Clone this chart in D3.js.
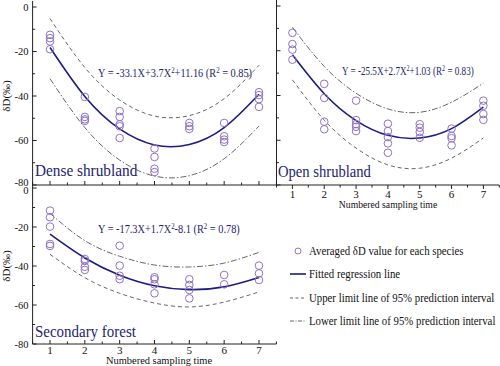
<!DOCTYPE html>
<html lang="en">
<meta charset="utf-8">
<title>dD sampling time</title>
<style>
  body { margin: 0; background: #fff; }
</style>
<body>
<svg id="canvas"></svg>
<script src="https://cdn.jsdelivr.net/npm/d3@7/dist/d3.min.js"></script>
<script>

    //////////////////////// data ////////////////////////
    var x_ticks    = [1, 2, 3, 4, 5, 6, 7];
    var y_ticks    = [0, -20, -40, -60, -80];

    // Dense shrubland
    var dense_pts  = [[1,-12.5],[1,-14],[1,-15.5],[1,-19],
                      [2,-40.4],[2,-49.4],[2,-50.5],[2,-51.2],
                      [3,-46.8],[3,-49.4],[3,-52.7],[3,-53.6],[3,-58.9],
                      [4,-63.6],[4,-67.4],[4,-72.7],[4,-74.2],
                      [5,-52.1],[5,-53.6],[5,-54.8],
                      [6,-52.1],[6,-58.1],[6,-59.6],[6,-60.7],
                      [7,-38.3],[7,-39.6],[7,-41.4],[7,-44.9]];
    var dense_fit  = [-18.2, -40.2, -54.8, -62.0, -61.8, -54.2, -39.2];
    var dense_up   = [-5.2, -27.2, -41.8, -49.0, -48.8, -41.2, -26.2];
    var dense_lo   = [-32.2, -54.2, -68.8, -76.0, -75.8, -68.2, -53.5];

    // Open shrubland
    var open_pts   = [[1,-12],[1,-17],[1,-19.5],[1,-24],
                      [2,-34.8],[2,-41.1],[2,-51.7],[2,-55.1],
                      [3,-42.3],[3,-51],[3,-52.8],[3,-54],[3,-55.9],
                      [4,-52.6],[4,-55.9],[4,-58.6],[4,-61.4],[4,-65.6],
                      [5,-52.8],[5,-54.4],[5,-56.3],[5,-58.9],
                      [6,-54.8],[6,-58.1],[6,-59.1],[6,-62.3],
                      [7,-42.3],[7,-44.6],[7,-48.3],[7,-50.9]];
    var open_fit   = [-21.8, -39.2, -51.2, -57.8, -59.0, -54.8, -45.2];
    var open_up    = [-9.5, -27, -39, -46, -47.5, -43, -34.5];
    var open_lo    = [-33, -51, -63.5, -71, -72.5, -68, -59];

    // Secondary forest
    var sec_pts    = [[1,-11.6],[1,-15],[1,-19.8],[1,-28.7],[1,-29.7],
                      [2,-36.4],[2,-37.4],[2,-40.4],[2,-42],
                      [3,-29.6],[3,-39.8],[3,-45],[3,-46.8],
                      [4,-45.8],[4,-46.8],[4,-49.4],[4,-54],
                      [5,-46.8],[5,-49.7],[5,-52.3],[5,-56.6],
                      [6,-44.6],[6,-49.4],
                      [7,-39.8],[7,-43.8],[7,-47.2]];
    var sec_fit    = [-23.7, -35.9, -44.7, -50.1, -52.1, -50.7, -45.9];
    var sec_up     = [-13, -27, -35, -39.5, -40.5, -38.5, -33];
    var sec_lo     = [-34, -46, -54, -59, -61, -58.5, -53.3];

    var legend_items = ["Averaged \u03b4D value for each species",
                        "Fitted regression line",
                        "Upper limit line of 95% prediction interval",
                        "Lower limit line of 95% prediction interval"];
    //////////////////////////////////////////////////////

    ///////////////////// styles /////////////////////////
    var W = 500, H = 366;
    var font       = '"Liberation Serif", "DejaVu Serif", "Times New Roman", serif';
    var pt_color   = '#8f72c4';
    var fit_color  = '#1c1c82';
    var txt_color  = '#24246e';
    var int_color  = '#555';
    var dash       = '4,3';
    var dashdot    = '6,2,1.5,2';
    //////////////////////////////////////////////////////

    var svg = d3.select("#canvas").attr('width', W).attr('height', H)
                .attr('font-family', font);

    // yNudge: small shift of the end labels where two stacked axes meet
    var panels = [
        { name: "Dense shrubland", pts: dense_pts, fit: dense_fit, up: dense_up, lo: dense_lo,
          upStyle: dash, loStyle: dashdot,
          xr: [32.6, 276.4], yr: [185, 7], tickDir: -1, xLabels: false, yLabels: true,
          eq: ["Y = -33.1X+3.7X", "+11.16 (R", " = 0.85)"], eqX: 98, eqY: 77, eqS: 0.86,
          lab: [35, 176, 0.9], yTitle: 96, yNudge: { "-80": -2.5 } },
        { name: "Open shrubland", pts: open_pts, fit: open_fit, up: open_up, lo: open_lo,
          upStyle: dashdot, loStyle: dash,
          xr: [276.5, 499.3], yr: [185, 6], tickDir: 1, xLabels: true, yLabels: false,
          eq: ["Y = -25.5X+2.7X", "+1.03 (R", " = 0.83)"], eqX: 342, eqY: 75, eqS: 0.76,
          lab: [278, 177, 0.86], xTitle: [388, 208, 0.88], tickY: 198 },
        { name: "Secondary forest", pts: sec_pts, fit: sec_fit, up: sec_up, lo: sec_lo,
          upStyle: dashdot, loStyle: dash,
          xr: [32.6, 276.4], yr: [344, 188], tickDir: -1, xLabels: true, yLabels: true,
          eq: ["Y = -17.3X+1.7X", "-8.1 (R", " = 0.78)"], eqX: 98, eqY: 233, eqS: 0.86,
          lab: [35, 337, 0.88], xTitle: [159, 364, 0.95], tickY: 354, yTitle: 266,
          yNudge: { "0": 2.5 } }
    ];

    panels.forEach(function (p) {
        var x = d3.scaleLinear().domain([0.5, 7.5]).range(p.xr);
        var y = d3.scaleLinear().domain([-80, 0]).range(p.yr);
        var g = svg.append('g');

        // x axis
        var xa = g.append('g').attr('transform', 'translate(0,' + p.yr[0] + ')');
        xa.append('line').attr('x1', p.xr[0]).attr('x2', p.xr[1])
          .attr('stroke', '#222').attr('stroke-width', 1);
        xa.selectAll('.maj').data(x_ticks).enter().append('line')
          .attr('x1', d => x(d)).attr('x2', d => x(d))
          .attr('y1', 0).attr('y2', 4 * p.tickDir)
          .attr('stroke', '#222');
        xa.selectAll('.min').data(x_ticks.map(d => d + 0.5).concat([0.5])).enter().append('line')
          .attr('x1', d => x(d)).attr('x2', d => x(d))
          .attr('y1', 0).attr('y2', 2.5 * p.tickDir)
          .attr('stroke', '#222');
        if (p.xLabels) {
            g.selectAll('.xl').data(x_ticks).enter().append('text')
             .attr('x', d => x(d)).attr('y', p.tickY)
             .attr('text-anchor', 'middle').attr('font-size', 11).attr('fill', '#111')
             .text(d => d);
            g.append('text')
             .attr('transform', 'translate(' + p.xTitle[0] + ',' + p.xTitle[1] + ') scale(' + p.xTitle[2] + ',1)')
             .attr('text-anchor', 'middle').attr('font-size', 11).attr('fill', '#111')
             .text('Numbered sampling time');
        }

        // y axis
        var ya = g.append('g').attr('transform', 'translate(' + p.xr[0] + ',0)');
        ya.append('line').attr('y1', p.yr[0]).attr('y2', p.yr[1] - 6)
          .attr('stroke', '#222').attr('stroke-width', 1);
        ya.selectAll('.maj').data(y_ticks).enter().append('line')
          .attr('y1', d => y(d)).attr('y2', d => y(d)).attr('x1', 0).attr('x2', 4)
          .attr('stroke', '#222');
        ya.selectAll('.min').data(d3.range(-70, 0, 20)).enter().append('line')
          .attr('y1', d => y(d)).attr('y2', d => y(d)).attr('x1', 0).attr('x2', 2.5)
          .attr('stroke', '#222');
        if (p.yLabels) {
            var nudge = p.yNudge || {};
            g.selectAll('.yl').data(y_ticks).enter().append('text')
             .attr('x', p.xr[0] - 4).attr('y', d => y(d) + 3.5 + (nudge[d] || 0))
             .attr('text-anchor', 'end').attr('font-size', 10.5).attr('fill', '#111')
             .text(d => d);
            g.append('text')
             .attr('transform', 'translate(10,' + p.yTitle + ') rotate(-90)')
             .attr('text-anchor', 'middle').attr('font-size', 11).attr('fill', '#111')
             .text('\u03b4D(\u2030)');
        }

        // curves
        var line = d3.line().x((d, i) => x(x_ticks[i])).y(d => y(d)).curve(d3.curveNatural);
        g.append('path').attr('d', line(p.up)).attr('fill', 'none')
         .attr('stroke', int_color).attr('stroke-width', 0.9).attr('stroke-dasharray', p.upStyle);
        g.append('path').attr('d', line(p.lo)).attr('fill', 'none')
         .attr('stroke', int_color).attr('stroke-width', 0.9).attr('stroke-dasharray', p.loStyle);
        g.append('path').attr('d', line(p.fit)).attr('fill', 'none')
         .attr('stroke', fit_color).attr('stroke-width', 1.6);

        // points
        g.selectAll('.pt').data(p.pts).enter().append('circle')
         .attr('cx', d => x(d[0])).attr('cy', d => y(d[1])).attr('r', 3.8)
         .attr('fill', 'none').attr('stroke', pt_color).attr('stroke-width', 1);

        // equation
        var eq = g.append('text')
                  .attr('transform', 'translate(' + p.eqX + ',' + p.eqY + ') scale(' + p.eqS + ',1)')
                  .attr('font-size', 12).attr('fill', txt_color);
        eq.append('tspan').text(p.eq[0]);
        eq.append('tspan').attr('dy', -4.5).attr('font-size', 8).text('2');
        eq.append('tspan').attr('dy', 4.5).text(p.eq[1]);
        eq.append('tspan').attr('dy', -4.5).attr('font-size', 8).text('2');
        eq.append('tspan').attr('dy', 4.5).text(p.eq[2]);

        // panel label
        g.append('text')
         .attr('transform', 'translate(' + p.lab[0] + ',' + p.lab[1] + ') scale(' + p.lab[2] + ',1)')
         .attr('font-size', 17).attr('fill', txt_color)
         .text(p.name);
    });

    //////////////////////// legend ////////////////////////
    var lg = svg.append('g');
    var lg_y = [251, 274, 298, 321];
    lg.append('circle').attr('cx', 298).attr('cy', lg_y[0]).attr('r', 3)
      .attr('fill', 'none').attr('stroke', pt_color);
    lg.append('line').attr('x1', 290).attr('x2', 306).attr('y1', lg_y[1]).attr('y2', lg_y[1])
      .attr('stroke', fit_color).attr('stroke-width', 1.6);
    lg.append('line').attr('x1', 290).attr('x2', 306).attr('y1', lg_y[2]).attr('y2', lg_y[2])
      .attr('stroke', int_color).attr('stroke-width', 0.9).attr('stroke-dasharray', '3,2.5');
    lg.append('line').attr('x1', 290).attr('x2', 306).attr('y1', lg_y[3]).attr('y2', lg_y[3])
      .attr('stroke', int_color).attr('stroke-width', 0.9).attr('stroke-dasharray', '4,1.5,1,1.5');
    lg.selectAll('.lt').data(legend_items).enter().append('text')
      .attr('transform', (d, i) => 'translate(309,' + (lg_y[i] + 3.5) + ') scale(0.9,1)')
      .attr('font-size', 12).attr('fill', '#111')
      .text(d => d);

</script>
</body>
</html>
